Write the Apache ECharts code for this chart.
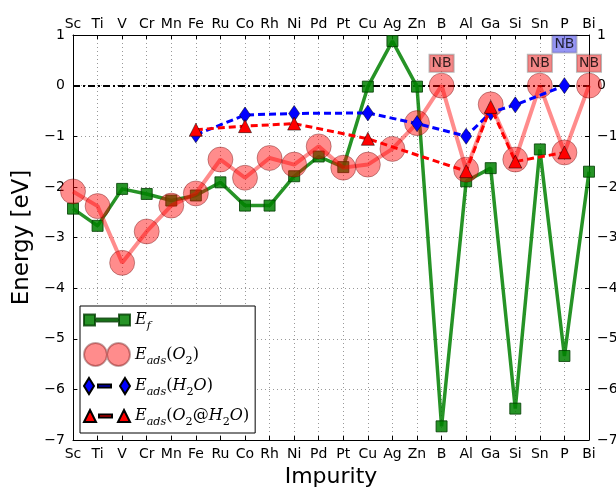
<!DOCTYPE html>
<html>
<head>
<meta charset="utf-8">
<script src="https://cdn.jsdelivr.net/npm/echarts@6/dist/echarts.min.js"></script>
<style>
  html, body { margin: 0; padding: 0; background: #fff; }
  #chart { width: 616px; height: 488px; }
</style>
</head>
<body>
<div id="chart"></div>
<script>
const impurities = ["Sc", "Ti", "V", "Cr", "Mn", "Fe", "Ru", "Co", "Rh", "Ni", "Pd",
  "Pt", "Cu", "Ag", "Zn", "B", "Al", "Ga", "Si", "Sn", "P", "Bi"];

const eFormation = [-2.43, -2.77, -2.04, -2.14, -2.27, -2.17, -1.91, -2.37, -2.37, -1.79, -1.40,
  -1.61, -0.02, 0.88, -0.02, -6.73, -1.89, -1.63, -6.38, -1.26, -5.34, -1.70];
const eAdsO2 = [-2.09, -2.38, -3.50, -2.88, -2.37, -2.13, -1.46, -1.82, -1.43, -1.56, -1.20,
  -1.62, -1.56, -1.25, -0.74, 0.0, -1.66, -0.37, -1.46, 0.0, -1.32, 0.0];
const eAdsH2O = [null, null, null, null, null, -0.97, null, -0.58, null, -0.55, null,
  null, -0.54, null, -0.75, null, -1.0, -0.53, -0.38, null, 0.0, null];
const eAdsO2H2O = [null, null, null, null, null, -0.87, null, -0.80, null, -0.75, null,
  null, -1.05, null, null, null, -1.69, -0.42, -1.50, null, -1.32, null];

// "NB" (not bound) notes
const nbRed = [["B", 0.44], ["Sn", 0.44], ["Bi", 0.44]];
const nbBlue = [["P", 0.82]];

const FONT = "DejaVu Sans";
const MATH = "DejaVu Serif";

let myChart = echarts.init(document.getElementById("chart"));

const AXIS_LINE = { show: true, onZero: false, lineStyle: { color: "#000", width: 1 } };
const AXIS_TICK = { show: true, inside: true, length: 4, lineStyle: { color: "#000" } };
const GRID_LINES = { show: true, lineStyle: { color: "#999", type: [1, 3], width: 1 } };
const X_LABEL = { fontFamily: FONT, fontSize: 14, color: "#000", margin: 7, interval: 0 };
const Y_LABEL = {
  fontFamily: FONT, fontSize: 14, color: "#000", margin: 8,
  formatter: function (value) {
    return String(value).replace("-", "\u2212");
  },
};

function mathRich(size) {
  return {
    e: { fontFamily: MATH, fontStyle: "italic", fontSize: size, color: "#000", lineHeight: 24 },
    s: { fontFamily: MATH, fontStyle: "italic", fontSize: size * 0.7, color: "#000", lineHeight: 24, verticalAlign: "bottom", padding: [8, 0, 0, 0] },
    n: { fontFamily: MATH, fontSize: size, color: "#000", lineHeight: 24 },
    d: { fontFamily: MATH, fontSize: size * 0.7, color: "#000", lineHeight: 24, verticalAlign: "bottom", padding: [8, 0, 0, 0] },
  };
}

const legendText = {
  Ef: "{e|E}{s|f}",
  EadsO2: "{e|E}{s|ads}{n|(}{e|O}{d|2}{n|)}",
  EadsH2O: "{e|E}{s|ads}{n|(}{e|H}{d|2}{e|O}{n|)}",
  EadsO2H2O: "{e|E}{s|ads}{n|(}{e|O}{d|2}{n|@}{e|H}{d|2}{e|O}{n|)}",
};

// two markers joined by a line, like a matplotlib legend handle
const ICONS = {
  Ef: "path://M0,0H11V11H0Z M35,0H46V11H35Z M11,4H35V7H11Z",
  EadsO2: "path://M0,12A11.5,11.5 0 1,1 23,12A11.5,11.5 0 1,1 0,12Z M23,12A11.5,11.5 0 1,1 46,12A11.5,11.5 0 1,1 23,12Z",
  EadsH2O: "path://M5,0L10,8L5,16L0,8Z M41,0L46,8L41,16L36,8Z M14,6.5H27V9.5H14Z",
  EadsO2H2O: "path://M6,0L12,12H0Z M40,0L46,12H34Z M15,4.5H28V7.5H15Z",
};

function nbSeries(list, color) {
  return {
    type: "scatter",
    symbol: "circle",
    symbolSize: 1,
    itemStyle: { color: "transparent" },
    silent: true,
    z: 10,
    data: list.map(([c, v]) => [c, v]),
    label: {
      show: true,
      position: "inside",
      formatter: "NB",
      fontFamily: FONT,
      fontSize: 14,
      color: "#000",
      backgroundColor: color,
      borderColor: "rgba(0,0,0,0.35)",
      borderWidth: 1,
      padding: [2, 2, 1, 2],
    },
  };
}

let option = {
  animation: false,
  backgroundColor: "#fff",
  grid: { left: 73, top: 35, width: 516, height: 405, containLabel: false, outerBoundsMode: "none" },
  legend: {
    show: true,
    left: 80,
    top: 306,
    orient: "vertical",
    backgroundColor: "#fff",
    borderColor: "#000",
    borderWidth: 1,
    padding: [6, 6, 5, 3],
    itemGap: 10,
    itemWidth: 46,
    itemHeight: 24,
    data: ["Ef", "EadsO2", "EadsH2O", "EadsO2H2O"].map((n) => ({ name: n, icon: ICONS[n] })),
    formatter: function (name) {
      return legendText[name];
    },
    textStyle: { rich: mathRich(16) },
  },
  xAxis: [
    {
      type: "category",
      data: impurities,
      boundaryGap: false,
      position: "bottom",
      name: "Impurity",
      nameLocation: "middle",
      nameGap: 24,
      nameTextStyle: { fontFamily: FONT, fontSize: 22, color: "#000" },
      axisLine: AXIS_LINE,
      axisTick: AXIS_TICK,
      axisLabel: X_LABEL,
      splitLine: GRID_LINES,
    },
    {
      type: "category",
      data: impurities,
      boundaryGap: false,
      position: "top",
      axisLine: AXIS_LINE,
      axisTick: AXIS_TICK,
      axisLabel: { ...X_LABEL, margin: 4 },
      splitLine: { show: false },
    },
  ],
  yAxis: [
    {
      type: "value",
      min: -7,
      max: 1,
      interval: 1,
      position: "left",
      name: "Energy [eV]",
      nameLocation: "middle",
      nameGap: 32,
      nameTextStyle: { fontFamily: FONT, fontSize: 23, color: "#000" },
      axisLine: AXIS_LINE,
      axisTick: AXIS_TICK,
      axisLabel: Y_LABEL,
      splitLine: GRID_LINES,
    },
    {
      type: "value",
      min: -7,
      max: 1,
      interval: 1,
      position: "right",
      axisLine: AXIS_LINE,
      axisTick: AXIS_TICK,
      axisLabel: Y_LABEL,
      splitLine: { show: false },
    },
  ],
  series: [
    {
      name: "Ef",
      type: "line",
      data: eFormation,
      z: 2,
      symbol: "rect",
      symbolSize: 11,
      lineStyle: { color: "rgba(0,128,0,0.85)", width: 3.5 },
      itemStyle: { color: "rgba(0,128,0,0.85)", borderColor: "rgba(0,60,0,0.8)", borderWidth: 1 },
      markLine: {
        silent: true,
        symbol: "none",
        label: { show: false },
        z: 1,
        lineStyle: { color: "#000", width: 2, type: [7, 3, 2, 3] },
        data: [{ yAxis: 0 }],
      },
    },
    {
      name: "EadsO2",
      type: "line",
      data: eAdsO2,
      z: 3,
      symbol: "circle",
      symbolSize: 25,
      lineStyle: { color: "rgba(255,0,0,0.45)", width: 4 },
      itemStyle: { color: "rgba(255,0,0,0.45)", borderColor: "rgba(80,0,0,0.35)", borderWidth: 1 },
    },
    {
      name: "EadsH2O",
      type: "line",
      data: eAdsH2O,
      connectNulls: true,
      z: 4,
      symbol: "diamond",
      symbolSize: [11, 16],
      lineStyle: { color: "#0000ff", width: 3, type: [7, 4] },
      itemStyle: { color: "#0000ff", borderColor: "#000", borderWidth: 0.5 },
    },
    {
      name: "EadsO2H2O",
      type: "line",
      data: eAdsO2H2O,
      connectNulls: true,
      z: 5,
      symbol: "triangle",
      symbolSize: 13,
      lineStyle: { color: "#ff0000", width: 3, type: [7, 4] },
      itemStyle: { color: "#ff0000", borderColor: "#000", borderWidth: 0.5 },
    },
    nbSeries(nbRed, "rgba(240,80,80,0.85)"),
    nbSeries(nbBlue, "rgba(110,110,240,0.9)"),
  ],
};

option && myChart.setOption(option);
</script>
</body>
</html>
